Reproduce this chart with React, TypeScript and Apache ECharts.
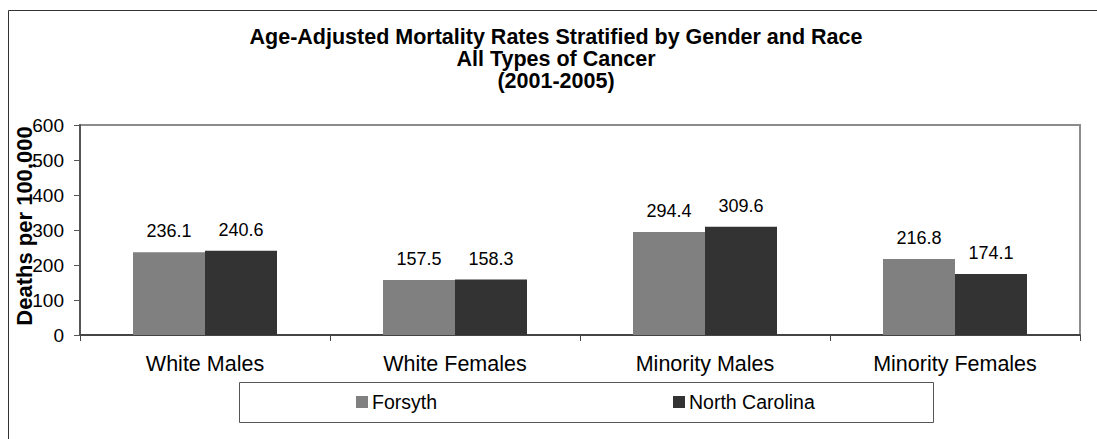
import React, { useEffect, useRef } from "react";
import * as echarts from "echarts";

const categories = ["White Males", "White Females", "Minority Males", "Minority Females"];
const forsyth = [236.1, 157.5, 294.4, 216.8];
const northCarolina = [240.6, 158.3, 309.6, 174.1];
const titleLines = [
  "Age-Adjusted Mortality Rates Stratified by Gender and Race",
  "All Types of Cancer",
  "(2001-2005)",
];
const yAxisName = "Deaths per 100,000";
const seriesNames = ["Forsyth", "North Carolina"];

const FONT = "Arial, 'Liberation Sans', sans-serif";

export default function App() {
  const ref = useRef<HTMLDivElement>(null);
  useEffect(() => {
    if (!ref.current) return;
    const chart = echarts.init(ref.current, undefined, { renderer: "svg" });
    const labelStyle = {
      show: true,
      position: "top" as const,
      distance: 12,
      fontSize: 18,
      color: "#000",
      fontFamily: FONT,
      formatter: (p: any) => Number(p.value).toFixed(1),
    };
    chart.setOption({
      animation: false,
      backgroundColor: "#fff",
      textStyle: { fontFamily: FONT },
      title: {
        text: titleLines.join("\n"),
        left: 556,
        top: 26,
        textAlign: "center",
        padding: 0,
        textStyle: {
          fontSize: 21.5,
          fontWeight: "bold",
          color: "#000",
          lineHeight: 22,
          fontFamily: FONT,
        },
      },
      graphic: [
        {
          type: "rect",
          shape: { x: 8.5, y: 10.5, width: 1200, height: 600 },
          style: { fill: "none", stroke: "#333", lineWidth: 1 },
          silent: true,
          z: -10,
        },
        {
          type: "rect",
          shape: { x: 239.5, y: 382.5, width: 694, height: 40 },
          style: { fill: "#fff", stroke: "#555", lineWidth: 1 },
          silent: true,
          z: 0,
        },
        {
          type: "text",
          x: 24,
          y: 226,
          rotation: Math.PI / 2,
          z: 5,
          style: {
            text: yAxisName,
            fontSize: 22,
            fontWeight: "bold",
            fill: "#000",
            fontFamily: FONT,
            align: "center",
            verticalAlign: "middle",
          },
        },
      ],
      legend: {
        data: seriesNames,
        left: 356,
        top: 392,
        itemWidth: 12,
        itemHeight: 12,
        itemGap: 236,
        padding: 0,
        icon: "rect",
        z: 10,
        textStyle: { fontSize: 19.5, color: "#000", fontFamily: FONT, lineHeight: 20, padding: [0, 0, 0, -1] },
      },
      grid: {
        left: 80,
        right: 17,
        top: 125,
        bottom: 104,
        containLabel: false,
        outerBoundsMode: "none",
        show: true,
        borderColor: "#8c8c8c",
        borderWidth: 2,
        backgroundColor: "transparent",
      },
      xAxis: {
        type: "category",
        data: categories,
        axisLine: { lineStyle: { color: "#444", width: 2 } },
        axisTick: { show: true, alignWithLabel: false, length: 6, lineStyle: { color: "#444", width: 1 } },
        axisLabel: { fontSize: 21.5, color: "#000", margin: 18, fontFamily: FONT },
      },
      yAxis: {
        type: "value",
        min: 0,
        max: 600,
        interval: 100,
        axisLine: { show: true, lineStyle: { color: "#555", width: 2 } },
        axisTick: { show: true, length: 6, lineStyle: { color: "#555", width: 1 } },
        axisLabel: { fontSize: 19, color: "#000", margin: 16, fontFamily: FONT },
        splitLine: { show: false },
      },
      series: [
        {
          name: seriesNames[0],
          type: "bar",
          data: forsyth,
          barWidth: 72,
          barGap: "0%",
          itemStyle: { color: "#808080" },
          label: labelStyle,
        },
        {
          name: seriesNames[1],
          type: "bar",
          data: northCarolina,
          barWidth: 72,
          barGap: "0%",
          itemStyle: { color: "#333333" },
          label: labelStyle,
        },
      ],
    });
    return () => chart.dispose();
  }, []);
  return <div ref={ref} style={{ width: 1097, height: 439, position: "absolute", left: 0, top: 0 }} />;
}
